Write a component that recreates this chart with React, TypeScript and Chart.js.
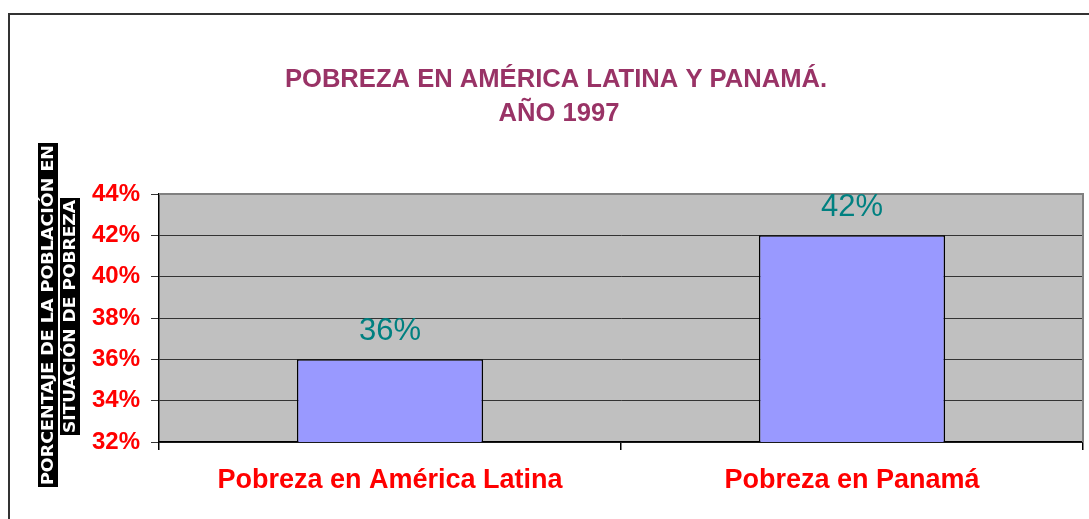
import React, { useEffect, useRef } from "react";
import { Chart, registerables } from "chart.js";

Chart.register(...registerables);

const categories = ["Pobreza en América Latina", "Pobreza en Panamá"];
const values = [36, 42];
const yTicks = [32, 34, 36, 38, 40, 42, 44];
const titleLines = ["POBREZA EN AMÉRICA LATINA Y PANAMÁ.", "AÑO 1997"];
const yTitleLines = ["PORCENTAJE DE LA POBLACIÓN EN", "SITUACIÓN DE POBREZA"];

const FONT = "'Liberation Sans', Arial, sans-serif";

const decorPlugin = {
  id: "decor",
  beforeDraw(chart: any) {
    const { ctx, chartArea: a } = chart;
    ctx.save();
    ctx.fillStyle = "#ffffff";
    ctx.fillRect(0, 0, chart.width, chart.height);
    // outer frame
    ctx.strokeStyle = "#333333";
    ctx.lineWidth = 2;
    ctx.beginPath();
    ctx.moveTo(9, chart.height + 5);
    ctx.lineTo(9, 14);
    ctx.lineTo(chart.width + 5, 14);
    ctx.stroke();
    // plot background
    ctx.fillStyle = "#C0C0C0";
    ctx.fillRect(a.left, a.top, a.right - a.left, a.bottom - a.top);
    ctx.restore();
  },
  beforeDatasetsDraw(chart: any) {
    const { ctx, chartArea: a } = chart;
    ctx.save();
    ctx.strokeStyle = "#808080";
    ctx.lineWidth = 2;
    ctx.beginPath();
    ctx.moveTo(a.left, a.top);
    ctx.lineTo(a.right, a.top);
    ctx.lineTo(a.right, a.bottom);
    ctx.stroke();
    ctx.restore();
  },
  afterDraw(chart: any) {
    const { ctx } = chart;
    ctx.save();
    // title
    ctx.fillStyle = "#993366";
    ctx.font = `bold 25.6px ${FONT}`;
    ctx.textAlign = "center";
    ctx.textBaseline = "middle";
    ctx.fillText(titleLines[0], 556, 80);
    ctx.fillText(titleLines[1], 559, 114);

    // data labels
    const meta = chart.getDatasetMeta(0);
    ctx.fillStyle = "#008080";
    ctx.font = `31px ${FONT}`;
    meta.data.forEach((bar: any, i: number) => {
      ctx.fillText(values[i] + "%", bar.x, bar.y - 28);
    });

    // y-axis title (white on black, rotated)
    const boxes = [
      { cx: 48, cy: 315, len: 344 },
      { cx: 70, cy: 316.5, len: 237 },
    ];
    ctx.font = `bold 16px 'DejaVu Sans Condensed', 'DejaVu Sans', sans-serif`;
    boxes.forEach((b, i) => {
      ctx.save();
      ctx.translate(b.cx, b.cy);
      ctx.rotate(-Math.PI / 2);
      ctx.fillStyle = "#000000";
      ctx.fillRect(-b.len / 2, -10, b.len, 20);
      const w = ctx.measureText(yTitleLines[i]).width;
      const sx = (b.len - 4) / w;
      ctx.scale(sx, 1);
      ctx.fillStyle = "#ffffff";
      ctx.textAlign = "center";
      ctx.textBaseline = "middle";
      ctx.fillText(yTitleLines[i], 0, 1);
      ctx.restore();
    });
    ctx.restore();
  },
};

export default function App() {
  const ref = useRef<HTMLCanvasElement | null>(null);

  useEffect(() => {
    document.body.style.overflow = "hidden";
    const chart = new Chart(ref.current as HTMLCanvasElement, {
      type: "bar",
      data: {
        labels: categories,
        datasets: [
          {
            data: values,
            backgroundColor: "#9999FF",
            borderColor: "#000000",
            borderWidth: 1.5,
            categoryPercentage: 1,
            barPercentage: 0.403,
            borderSkipped: false,
          },
        ],
      },
      options: {
        animation: false,
        responsive: true,
        maintainAspectRatio: false,
        layout: { padding: { top: 194, right: 6, left: 0, bottom: 0 } },
        plugins: {
          legend: { display: false },
          title: { display: false },
          tooltip: { enabled: false },
        },
        scales: {
          x: {
            afterFit(scale: any) {
              scale.height = 77;
            },
            grid: {
              drawOnChartArea: false,
              color: "#000000",
              tickLength: 8,
              lineWidth: 1.5,
            },
            border: { color: "#000000", width: 1.5 },
            ticks: {
              color: "#FF0000",
              font: { family: FONT, size: 27, weight: "bold" },
              padding: 14,
            },
          },
          y: {
            min: 32,
            max: 44,
            afterFit(scale: any) {
              scale.width = 159;
            },
            afterBuildTicks(scale: any) {
              scale.ticks = yTicks.map((v) => ({ value: v }));
            },
            grid: {
              color: (c: any) => (c.tick && c.tick.value === 44 ? "#808080" : "#333333"),
              tickColor: "#333333",
              tickLength: 8,
              lineWidth: 1,
            },
            border: { color: "#000000", width: 1.5 },
            ticks: {
              color: "#FF0000",
              font: { family: FONT, size: 24, weight: "bold" },
              padding: 11,
              callback: (v: any) => v + "%",
            },
          },
        },
      },
      plugins: [decorPlugin],
    });
    return () => chart.destroy();
  }, []);

  return (
    <div style={{ position: "fixed", left: 0, top: 0, width: 1089, height: 519, background: "#fff" }}>
      <canvas ref={ref} />
    </div>
  );
}
